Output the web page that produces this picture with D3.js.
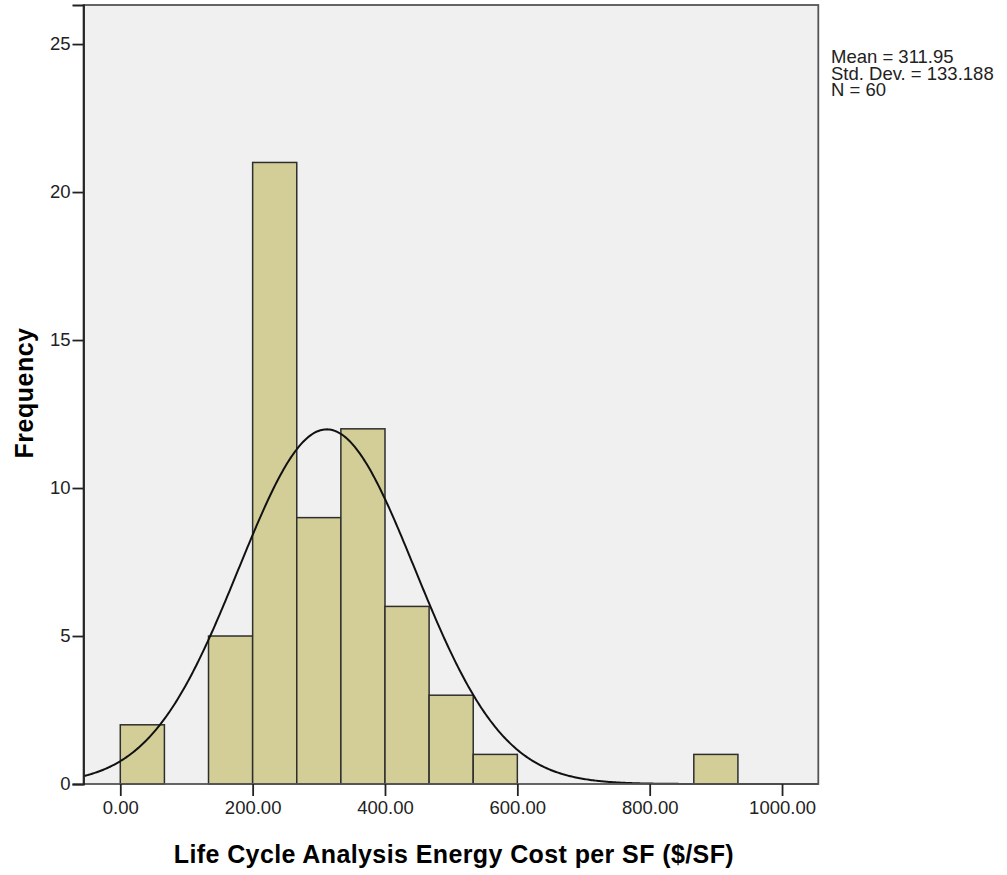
<!DOCTYPE html>
<html>
<head>
<meta charset="utf-8">
<script src="https://cdn.jsdelivr.net/npm/d3@7"></script>
<style>
  body { margin: 0; background: #fff; }
  text { font-family: Arial, "Liberation Sans", sans-serif; fill: #222; }
</style>
</head>
<body>
<div id="chart"></div>
<script>
// histogram bins (lower edge of each bin) and counts
var binEdges = [0, 66.67, 133.33, 200, 266.67, 333.33, 400, 466.67, 533.33, 600, 666.67, 733.33, 800, 866.67, 933.33];
var counts = [2, 0, 5, 21, 9, 12, 6, 3, 1, 0, 0, 0, 0, 1];
var xTicks = [0, 200, 400, 600, 800, 1000];
var yTicks = [0, 5, 10, 15, 20, 25];
var mean = 311.95, stdDev = 133.188, n = 60;
var statLines = ["Mean = 311.95", "Std. Dev. = 133.188", "N = 60"];

var width = 1007, height = 875;
var plot = {left: 83.5, right: 818.3, top: 5, bottom: 784};

var svg = d3.select("#chart").append("svg")
    .attr("width", width)
    .attr("height", height);

var x = d3.scaleLinear()
    .domain([-55.6, 1054.8])
    .range([plot.left, plot.right]);

var y = d3.scaleLinear()
    .domain([0, 26.32])
    .range([plot.bottom, plot.top]);

// plot background
svg.append("rect")
    .attr("x", plot.left)
    .attr("y", plot.top)
    .attr("width", plot.right - plot.left)
    .attr("height", plot.bottom - plot.top)
    .attr("fill", "#f0f0f0");

// bars
var bars = [];
for (var i = 0; i < counts.length; i++) {
  if (counts[i] > 0) bars.push({x0: binEdges[i], x1: binEdges[i + 1], c: counts[i]});
}
svg.selectAll("rect.bar")
    .data(bars)
  .enter().append("rect")
    .attr("class", "bar")
    .attr("x", function(d) { return x(d.x0); })
    .attr("y", function(d) { return y(d.c); })
    .attr("width", function(d) { return x(d.x1) - x(d.x0); })
    .attr("height", function(d) { return y(0) - y(d.c); })
    .attr("fill", "#d3ce97")
    .attr("stroke", "#2e2e2e")
    .attr("stroke-width", 1.5);

// normal curve from the stated mean / sd / N
var binWidth = binEdges[1] - binEdges[0];
var curve = d3.range(x.domain()[0], x.domain()[1], 2).map(function(v) {
  var z = (v - mean) / stdDev;
  return [v, n * binWidth * Math.exp(-0.5 * z * z) / (stdDev * Math.sqrt(2 * Math.PI))];
});
var line = d3.line()
    .x(function(d) { return x(d[0]); })
    .y(function(d) { return y(d[1]); });

svg.append("path")
    .datum(curve)
    .attr("fill", "none")
    .attr("stroke", "#111")
    .attr("stroke-width", 2)
    .attr("d", line);

// frame
svg.append("rect")
    .attr("x", plot.left)
    .attr("y", plot.top)
    .attr("width", plot.right - plot.left)
    .attr("height", plot.bottom - plot.top)
    .attr("fill", "none")
    .attr("stroke", "#555")
    .attr("stroke-width", 1.8);

var xAxis = d3.axisBottom(x)
    .tickValues(xTicks)
    .tickSize(12)
    .tickPadding(5)
    .tickFormat(d3.format(".2f"));

var yAxis = d3.axisLeft(y)
    .tickValues(yTicks)
    .tickSize(11)
    .tickPadding(2);

svg.append("g")
    .attr("transform", "translate(0," + plot.bottom + ")")
    .call(xAxis)
    .call(function(g) { g.select(".domain").remove(); });

svg.append("g")
    .attr("transform", "translate(" + plot.left + ",0)")
    .call(yAxis)
    .call(function(g) { g.select(".domain").attr("stroke", "#222").attr("stroke-width", 1.8); });

svg.selectAll(".tick line").attr("stroke", "#222").attr("stroke-width", 1.8);
svg.selectAll(".tick text")
    .style("font-size", "18.5px")
    .attr("fill", "#2a2a2a");

// axis titles
svg.append("text")
    .attr("x", (plot.left + plot.right) / 2 + 3)
    .attr("y", 863)
    .attr("text-anchor", "middle")
    .style("font-size", "25px")
    .style("font-weight", "bold")
    .style("letter-spacing", "0.4px")
    .style("fill", "#000")
    .text("Life Cycle Analysis Energy Cost per SF ($/SF)");

svg.append("text")
    .attr("transform", "translate(33,393) rotate(-90)")
    .attr("text-anchor", "middle")
    .style("font-size", "25px")
    .style("font-weight", "bold")
    .style("letter-spacing", "0.5px")
    .style("fill", "#000")
    .text("Frequency");

// stats
svg.selectAll("text.stat")
    .data(statLines)
  .enter().append("text")
    .attr("class", "stat")
    .attr("x", 831)
    .attr("y", function(d, i) { return 63 + i * 16.6; })
    .style("font-size", "18.5px")
    .text(function(d) { return d; });
</script>
</body>
</html>
